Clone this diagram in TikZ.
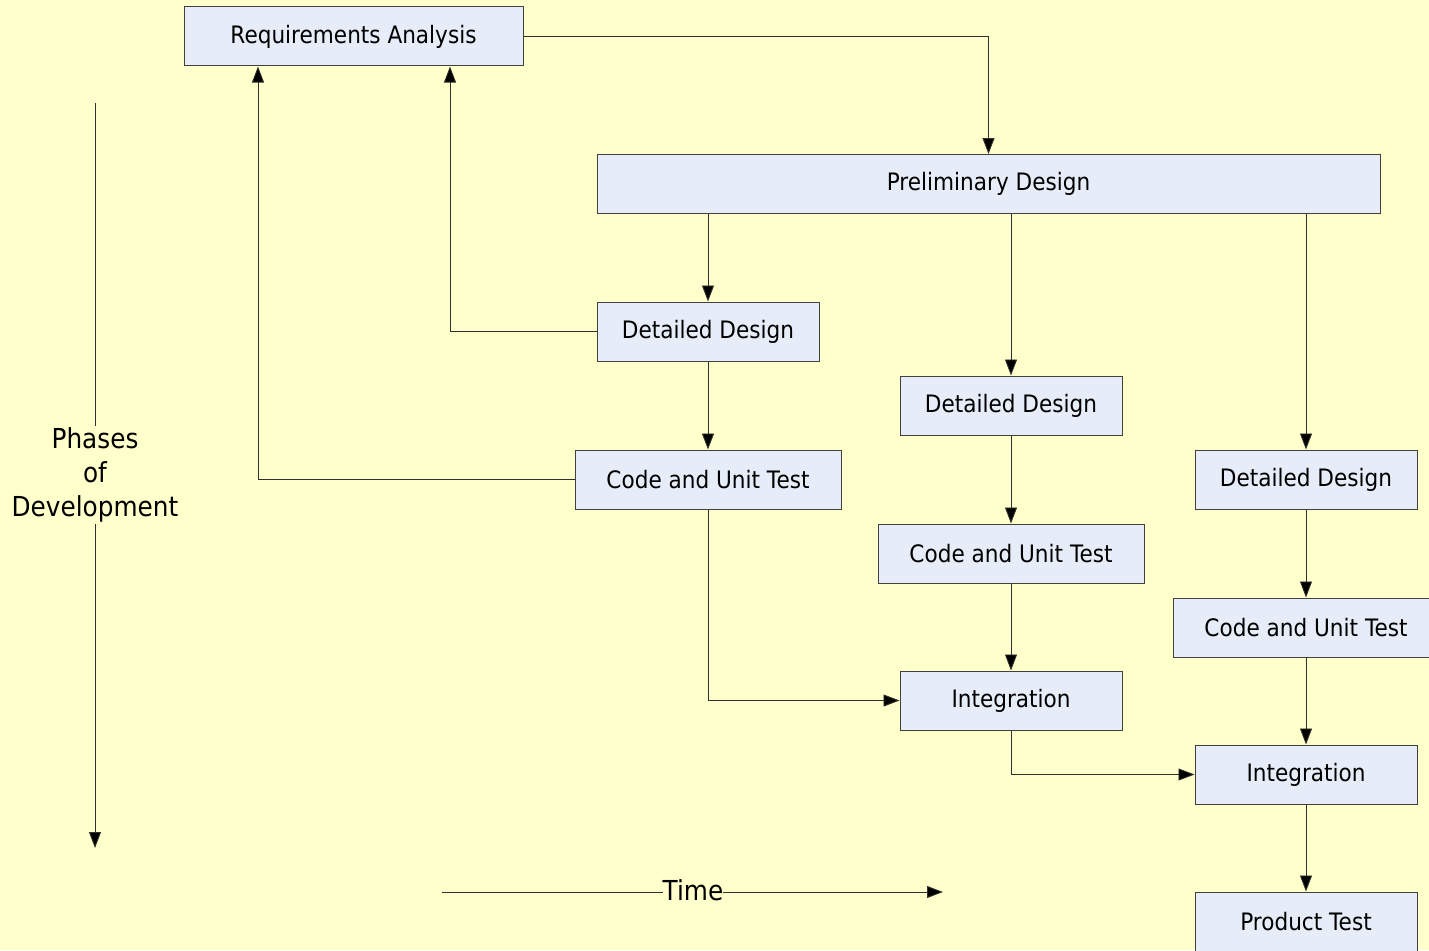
\documentclass[tikz,border=0pt]{standalone}
\usepackage{fontspec}
\setmainfont{DejaVu Sans}[FakeStretch=0.9]
\usetikzlibrary{arrows.meta}
\definecolor{bg}{HTML}{FFFFCC}
\definecolor{boxfill}{HTML}{E6ECF8}
\definecolor{boxline}{HTML}{404040}
\definecolor{lineclr}{HTML}{303030}
\begin{document}
\begin{tikzpicture}[x=1pt,y=-1pt,
  box/.style={draw=boxline, fill=boxfill, line width=1pt, minimum height=59pt, inner sep=0pt, font=\fontsize{24}{28}\selectfont, text=black},
  conn/.style={draw=lineclr, line width=0.9pt, -{Triangle[length=16pt,width=12pt,fill=black]}},
  plain/.style={draw=lineclr, line width=0.9pt},
  lbl/.style={font=\fontsize{27.5}{34}\selectfont, text=black, inner sep=1pt, align=center}]
\fill[bg] (0,0) rectangle (1429,950);
\useasboundingbox (0,0) rectangle (1429,950);
% boxes
\node[box, minimum width=339pt] (ra) at (353.5,36.5) {Requirements Analysis};
\node[box, minimum width=783pt] (pd) at (988.5,184) {Preliminary Design};
\node[box, minimum width=222pt] (dd1) at (708,331.5) {Detailed Design};
\node[box, minimum width=266pt] (cut1) at (708,479.5) {Code and Unit Test};
\node[box, minimum width=222pt] (dd2) at (1011,405.5) {Detailed Design};
\node[box, minimum width=266pt] (cut2) at (1011,553.5) {Code and Unit Test};
\node[box, minimum width=222pt] (int1) at (1011,700.5) {Integration};
\node[box, minimum width=222pt] (dd3) at (1306,479.5) {Detailed Design};
\node[box, minimum width=266pt] (cut3) at (1306,627.5) {Code and Unit Test};
\node[box, minimum width=222pt] (int2) at (1306,774.5) {Integration};
\node[box, minimum width=222pt] (pt) at (1306,921.5) {Product Test};
% connectors
\draw[conn] (ra.east) -| (pd.north);
\draw[conn] (dd1.north |- pd.south) -- (dd1.north);
\draw[conn] (dd2.north |- pd.south) -- (dd2.north);
\draw[conn] (dd3.north |- pd.south) -- (dd3.north);
\draw[conn] (dd1.south) -- (cut1.north);
\draw[conn] (dd2.south) -- (cut2.north);
\draw[conn] (cut2.south) -- (int1.north);
\draw[conn] (dd3.south) -- (cut3.north);
\draw[conn] (cut3.south) -- (int2.north);
\draw[conn] (int2.south) -- (pt.north);
\draw[conn] (dd1.west) -| ([xshift=96.5pt]ra.south);
\draw[conn] (cut1.west) -| ([xshift=-95.5pt]ra.south);
\draw[conn] (cut1.south) |- (int1.west);
\draw[conn] (int1.south) |- (int2.west);
% phases axis
\node[lbl] (ph) at (95,475) {Phases\\of\\Development};
\coordinate (phtop) at (95,103);
\coordinate (phbot) at (95,848);
\draw[plain] (phtop) -- (ph.north);
\draw[conn] (ph.south) -- (phbot);
% time axis
\node[lbl, inner sep=0pt] (time) at (693,890) {Time};
\coordinate (tl) at (442,892);
\coordinate (tr) at (943,892);
\draw[plain] (tl) -- (time.west |- tl);
\draw[conn] (time.east |- tr) -- (tr);
\end{tikzpicture}
\end{document}
